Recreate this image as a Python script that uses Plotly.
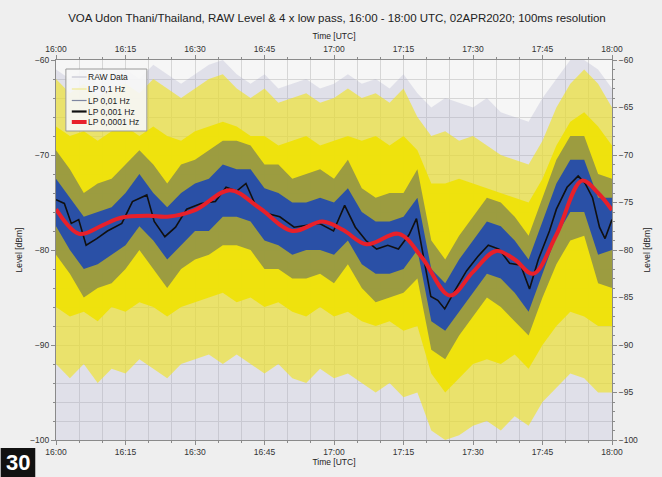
import pandas as pd
import plotly.graph_objects as go

# ---- data (minutes after 16:00 UTC, level in dBm) ----
grid_min = [0, 3, 6, 9, 12, 15, 18, 21, 24, 27, 30, 33, 36, 39, 42, 45, 48, 51, 54, 57,
            60, 63, 66, 69, 72, 75, 78, 81, 84, 87, 90, 93, 96, 99, 102, 105, 108, 111, 114, 117, 120]

# RAW data envelope
raw_hi = [-61, -62, -61, -62.5, -61.5, -61, -62, -60.5, -61.5, -62.5, -61.5, -60.5, -60, -61.5,
          -62.5, -61.5, -63, -62.5, -62, -63, -62.5, -61.5, -62.5, -62, -63, -61.5, -63.5, -65,
          -64, -64.5, -65, -64, -65.5, -66, -66.5, -64, -62, -60, -60, -61, -63]
raw_lo = [-100, -100, -100, -100, -100, -100, -100, -100, -100, -100, -100, -100, -100, -100,
          -100, -100, -100, -100, -100, -100, -100, -100, -100, -100, -100, -100, -100, -100,
          -100, -100, -100, -100, -100, -100, -100, -100, -100, -100, -100, -100, -100]

# LP 0,1 Hz: outer spikes and dense core
lp01_hi = [-62, -63.5, -62.5, -64, -63, -62.5, -63.5, -62, -63, -64, -63, -62, -61.5, -63,
           -64, -63, -64.5, -64, -63.5, -64.5, -64, -63, -64, -63.5, -64.5, -63, -66, -68,
           -67.5, -68.5, -68, -69, -70, -70.5, -71, -68.5, -65, -62.5, -61, -62.5, -65]
lp01_lo = [-92, -93.5, -92, -94, -92.5, -93, -91.5, -92.5, -93.5, -92, -91.5, -91, -92, -91,
           -92, -93, -92, -93.5, -94, -92.5, -93.5, -93, -94, -95, -94, -95.5, -95, -99,
           -100, -99.5, -98.5, -98, -99, -97.5, -98.5, -96, -94.5, -93, -93.5, -95, -95]
lp01_core_hi = [-67, -68, -67.5, -68.5, -67.5, -67, -68, -67, -68, -68.5, -67.5, -67, -66.5, -67,
                -68, -68, -69, -68.5, -68, -69, -68.5, -68, -68.5, -68, -69, -68, -69.5, -73,
                -73, -72.5, -73, -73.5, -74, -74.5, -75, -72.5, -69, -66.5, -65.5, -67, -69]
lp01_core_lo = [-86, -87, -86.5, -87.5, -86, -86.5, -85.5, -86, -87, -86, -85.5, -85, -84.5, -85.5,
                -85, -86, -85.5, -86.5, -87, -86, -87, -86.5, -87.5, -88, -87.5, -88.5, -88, -93,
                -95, -93.5, -92, -91.5, -92, -91, -92.5, -90, -88, -86.5, -87, -88, -88]

# LP 0,01 Hz: outer spikes and dense core
lp001_hi = [-69.5, -71.5, -74, -73, -72.5, -71, -69.5, -71, -73, -71, -70.5, -69.5, -68.5, -68.5,
            -69, -71, -71, -72.5, -72, -71.5, -72.5, -70.5, -73.5, -74.5, -74, -74, -71.5, -79,
            -81, -78.5, -76.5, -74.5, -75, -76.5, -78.5, -74.5, -70.5, -68, -68, -72, -72.5]
lp001_lo = [-80.5, -82.5, -85, -84, -83.5, -82, -80, -82, -84, -82, -81, -80.5, -79.5, -79.5,
            -80, -82, -82, -83, -83, -82.5, -83.5, -81.5, -84, -85.5, -85, -84.5, -83, -90.5,
            -91.5, -89, -87, -85, -86, -87.5, -89, -85, -81.5, -79, -78.5, -83.5, -84]
lp001_core_hi = [-72.5, -74.5, -76.5, -76, -75.5, -74, -72, -74, -75.5, -74, -73, -72.5, -71, -71.5,
                 -71.5, -73.5, -74, -75, -75, -74.5, -75, -73.5, -76, -77, -77, -76.5, -74.5, -82,
                 -83.5, -81, -79, -77, -77.5, -79, -81, -77, -73, -70.5, -70.5, -74.5, -74.5]
lp001_core_lo = [-77.5, -80, -82, -81.5, -80.5, -79.5, -77.5, -79, -81, -79.5, -78, -78, -76.5, -76.5,
                 -77, -79, -79.5, -80.5, -80, -80, -80.5, -79, -81.5, -82.5, -82.5, -82, -80, -87.5,
                 -88.5, -86.5, -84.5, -82.5, -83, -84.5, -86.5, -82.5, -78.5, -76, -76, -80.5, -80]

# LP 0,001 Hz
lp0001_min = [0, 1.8, 3.3, 4.9, 6.5, 8.8, 11.1, 14.2, 16.5, 19.6, 21.2, 23.5, 25.8, 28.2, 31.3,
              34.4, 36.7, 39.0, 41.0, 42.9, 45.2, 48.3, 51.4, 53.7, 56.8, 59.9, 62.3, 64.6, 66.9,
              69.2, 71.6, 73.9, 76.2, 77.8, 79.3, 80.9, 82.4, 83.9, 86.3, 88.6, 91.0, 93.3, 95.6,
              97.9, 100.3, 102.2, 104.1, 106.5, 108.0, 110.3, 112.7, 114.2, 115.8, 117.3, 118.5, 120]
lp0001 = [-74.7, -75.1, -77.2, -76.8, -79.5, -78.8, -78.0, -77.2, -74.9, -74.2, -77.0, -78.6, -77.6,
          -75.7, -75.1, -74.9, -73.4, -73.8, -73.0, -75.1, -76.1, -76.5, -77.6, -77.4, -77.2, -78.0,
          -75.3, -77.6, -79.0, -79.9, -79.5, -79.9, -78.4, -76.7, -80.7, -84.9, -85.3, -86.2, -84.1,
          -82.2, -80.7, -79.5, -79.9, -81.4, -81.6, -84.1, -81.0, -78.0, -75.7, -73.4, -72.2, -73.0,
          -74.5, -77.6, -78.8, -76.8]

# LP 0,0001 Hz
lp00001_min = [0, 5, 10, 14, 20, 24, 30, 37.5, 44, 51, 57.5, 62, 67, 74, 79, 85, 90, 95, 99,
               103, 108, 113.5, 117, 120]
lp00001 = [-75.7, -78.3, -77.4, -76.6, -76.4, -76.5, -75.8, -73.7, -75.6, -78.0, -77.0, -77.9,
           -79.4, -78.3, -80.8, -84.8, -82.3, -80.1, -81.0, -82.5, -78.4, -72.7, -74.0, -75.8]

y_ticks_left = [-100, -90, -80, -70, -60]
y_ticks_right = [-100, -95, -90, -85, -80, -75, -70, -65, -60]

legend_names = ["RAW Data", "LP 0,1 Hz", "LP 0,01 Hz", "LP 0,001 Hz", "LP 0,0001 Hz"]

START = pd.Timestamp("2020-04-02 16:00:00")
FONT = "Liberation Sans, Arial, sans-serif"

# plot-area geometry in pixels (used for the legend box and badge)
W, H = 662, 477
ML, MR, MT, MB = 56, 43, 60, 37
PW, PH = W - ML - MR, H - MT - MB


def px(x):
    return (x - ML) / PW


def py(y):
    return (H - MB - y) / PH


def to_time(minutes):
    return [START + pd.Timedelta(minutes=m) for m in minutes]


t_grid = to_time(grid_min)
fig = go.Figure()


def band(lo, hi, color):
    fig.add_trace(go.Scatter(x=t_grid, y=lo, mode="lines", line=dict(width=0, color=color),
                             showlegend=False, hoverinfo="skip"))
    fig.add_trace(go.Scatter(x=t_grid, y=hi, mode="lines", line=dict(width=0, color=color),
                             fill="tonexty", fillcolor=color, showlegend=False, hoverinfo="skip"))


band(raw_lo, raw_hi, "rgba(170,170,200,0.28)")
band(lp01_lo, lp01_hi, "rgba(240,228,30,0.62)")
band(lp01_core_lo, lp01_core_hi, "rgba(238,226,10,0.97)")
band(lp001_lo, lp001_hi, "rgba(50,66,130,0.44)")
band(lp001_core_lo, lp001_core_hi, "rgba(36,76,172,0.95)")

fig.add_trace(go.Scatter(x=to_time(lp0001_min), y=lp0001, mode="lines",
                         line=dict(color="#101010", width=1.6), showlegend=False))
fig.add_trace(go.Scatter(x=to_time(lp00001_min), y=lp00001, mode="lines",
                         line=dict(color="#e8202a", width=4, shape="spline"), showlegend=False))

# trace carrying the top and right axes
fig.add_trace(go.Scatter(x=[t_grid[0], t_grid[-1]], y=[None, None], xaxis="x2", yaxis="y2",
                         mode="lines", showlegend=False, hoverinfo="skip"))

tick_font = dict(family=FONT, size=8.5, color="#333")
title_font = dict(family=FONT, size=8.5, color="#222")
t_range = [START, START + pd.Timedelta(minutes=120)]
grid_col = "#d6d6d6"
axis_col = "#8a8a8a"

x_common = dict(type="date", range=t_range, tickformat="%H:%M", dtick=15 * 60 * 1000,
                tick0=START, ticks="outside", ticklen=4, tickcolor=axis_col,
                showline=True, linecolor=axis_col, linewidth=1, tickfont=tick_font,
                title=dict(text="Time [UTC]", font=title_font, standoff=2))

fig.update_layout(
    width=W, height=H,
    margin=dict(l=ML, r=MR, t=MT, b=MB),
    paper_bgcolor="#efefef", plot_bgcolor="#f6f6f6",
    title=dict(text="VOA Udon Thani/Thailand, RAW Level & 4 x low pass, 16:00 - 18:00 UTC, 02APR2020; 100ms resolution",
               x=0.509, xanchor="center", y=0.962, yanchor="middle",
               font=dict(family=FONT, size=11.5, color="#222")),
    xaxis=dict(**x_common, showgrid=True, gridcolor=grid_col, gridwidth=1,
               minor=dict(dtick=5 * 60 * 1000, ticks="outside", ticklen=2, tickcolor=axis_col,
                          showgrid=True, gridcolor=grid_col)),
    xaxis2=dict(**x_common, overlaying="x", side="top", anchor="y", showgrid=False,
                minor=dict(dtick=5 * 60 * 1000, ticks="outside", ticklen=2, tickcolor=axis_col)),
    yaxis=dict(range=[-100, -60], tickvals=y_ticks_left, ticks="outside", ticklen=4,
               tickcolor=axis_col, showline=True, linecolor=axis_col, tickfont=tick_font,
               showgrid=True, gridcolor=grid_col, zeroline=False,
               minor=dict(dtick=2, ticks="outside", ticklen=2, tickcolor=axis_col,
                          showgrid=True, gridcolor=grid_col),
               title=dict(text="Level [dBm]", font=title_font, standoff=6)),
    yaxis2=dict(range=[-100, -60], tickvals=y_ticks_right, overlaying="y", side="right",
                anchor="x", ticks="outside", ticklen=4, tickcolor=axis_col, showline=True,
                linecolor=axis_col, tickfont=tick_font, showgrid=False, zeroline=False,
                minor=dict(dtick=1, ticks="outside", ticklen=2, tickcolor=axis_col),
                title=dict(text="Level [dBm]", font=title_font, standoff=6)),
    showlegend=False,
)

# legend box drawn with shapes and annotations
fig.add_shape(type="rect", xref="paper", yref="paper",
              x0=px(66), x1=px(148), y0=py(131), y1=py(69),
              fillcolor="rgba(246,246,246,0.92)", line=dict(color="#9a9a9a", width=1),
              layer="above")
legend_styles = [("#c4c4d2", 1.2), ("#f0ea90", 1.2), ("#7f86a0", 1.2),
                 ("#101010", 2.2), ("#e8202a", 4)]
legend_rows = [77, 89, 100.5, 111.5, 122]
for name, (color, width), row in zip(legend_names, legend_styles, legend_rows):
    fig.add_shape(type="line", xref="paper", yref="paper",
                  x0=px(72), x1=px(87), y0=py(row), y1=py(row),
                  line=dict(color=color, width=width), layer="above")
    fig.add_annotation(text=name, xref="paper", yref="paper", x=px(86.5), y=py(row),
                       xanchor="left", yanchor="middle", showarrow=False,
                       font=dict(family=FONT, size=8.5, color="#222"))

# figure number badge
fig.add_shape(type="rect", xref="paper", yref="paper",
              x0=px(0), x1=px(35), y0=py(477), y1=py(448),
              fillcolor="#111", line=dict(width=0), layer="above")
fig.add_annotation(text="<b>30</b>", xref="paper", yref="paper", x=px(17.5), y=py(462.5),
                   xanchor="center", yanchor="middle", showarrow=False,
                   font=dict(family=FONT, size=22, color="white"))

fig.write_html("out.html")
